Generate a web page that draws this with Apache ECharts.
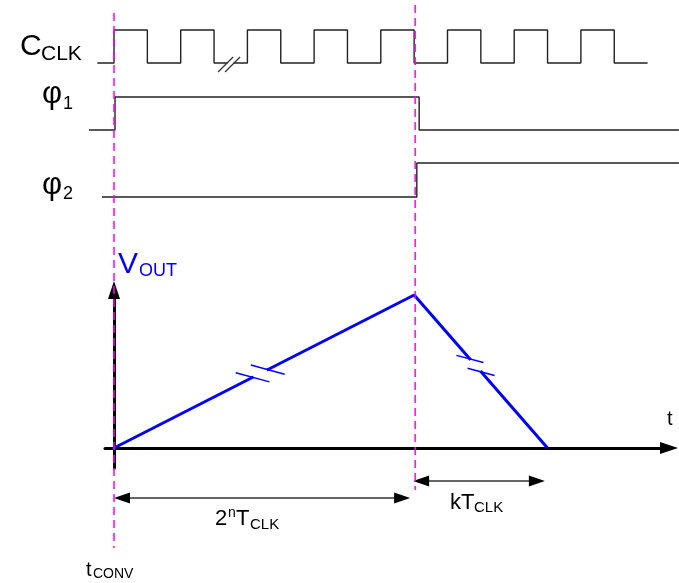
<!DOCTYPE html>
<html>
<head>
<meta charset="utf-8">
<script src="https://cdn.jsdelivr.net/npm/echarts@6/dist/echarts.min.js"></script>
<style>
  html, body { margin: 0; padding: 0; background: #fff; }
  #chart { width: 679px; height: 583px; }
</style>
</head>
<body>
<div id="chart"></div>
<script>
// time is counted in clock half-periods from the start of conversion
const clkTimes = [-0.5, 0, 1, 2, 3, 4, 5, 6, 7, 8, 9, 10, 11, 12, 13, 14, 15, 16];
const clkLevels = [0, 1, 0, 1, 0, 1, 0, 1, 0, 1, 0, 1, 0, 1, 0, 1, 0, 0];
const clkBreakAt = 3.45;

const phi1Times = [-0.75, 0.03, 9.15, 16.94];
const phi1Levels = [0, 1, 0, 0];
const phi2Times = [-0.36, 9.08, 16.94];
const phi2Levels = [0, 1, 1];

const voutTimes = [0, 9, 13];
const voutLevels = [0, 1, 0];
const voutBreaks = [[0, 0.487], [1, 0.46]]; // [segment, fraction along it]

const markerTimes = [0, 9.03];              // t_CONV, end of phase 1
const spans = [[0, 8.88], [8.97, 12.92]];   // 2^n T_CLK, k T_CLK

// layout
const W = 679, H = 583;
const X0 = 114, UNIT = 33.35;   // pixel of t=0, pixels per half period
const FONT = 'Liberation Sans, Arial, sans-serif';
const markerTop = [13, 5], markerBottom = [548, 490];
const spanRows = [498, 481];
const breakTick = [35, 28];

function xr(left, right) {
  return { min: (left - X0) / UNIT, max: (W - right - X0) / UNIT };
}
function zip(a, b) { return a.map((v, i) => [v, b[i]]); }
function label(x, base, text, size, color) {
  return {
    type: 'text', x: x, y: base - 0.35 * size,
    style: { text: text, fontSize: size, fontFamily: FONT, fill: color || '#000',
             align: 'left', verticalAlign: 'middle' }
  };
}

const chart = echarts.init(document.getElementById('chart'));
const full = xr(0, 0);
const vx = xr(105, 10);
const hidden = { show: false };

function digital(idx, data) {
  return {
    type: 'line', xAxisIndex: idx, yAxisIndex: idx, data: data, step: 'end',
    symbol: 'none', clip: false, silent: true,
    lineStyle: { color: '#222', width: 1.4 }
  };
}

const option = {
  animation: false,
  grid: [
    { left: 0, right: 0, top: 30, height: 33 },
    { left: 0, right: 0, top: 97, height: 33 },
    { left: 0, right: 0, top: 163, height: 34 },
    { left: 105, right: 10, top: 290, bottom: 115 },
    { left: 0, right: 0, top: 0, bottom: 0 }
  ],
  xAxis: [
    Object.assign({ type: 'value', gridIndex: 0, min: full.min, max: full.max }, hidden),
    Object.assign({ type: 'value', gridIndex: 1, min: full.min, max: full.max }, hidden),
    Object.assign({ type: 'value', gridIndex: 2, min: full.min, max: full.max }, hidden),
    {
      type: 'value', gridIndex: 3, min: vx.min, max: vx.max,
      axisLine: { show: true, onZero: true, symbol: ['none', 'triangle'], symbolSize: [12, 18],
                  lineStyle: { color: '#000', width: 3 } },
      axisTick: { show: false }, axisLabel: { show: false }, splitLine: { show: false }
    },
    Object.assign({ type: 'value', gridIndex: 4, min: full.min, max: full.max }, hidden)
  ],
  yAxis: [
    Object.assign({ type: 'value', gridIndex: 0, min: 0, max: 1 }, hidden),
    Object.assign({ type: 'value', gridIndex: 1, min: 0, max: 1 }, hidden),
    Object.assign({ type: 'value', gridIndex: 2, min: 0, max: 1 }, hidden),
    {
      type: 'value', gridIndex: 3, min: -20 / 153, max: 158 / 153,
      axisLine: { show: true, onZero: true, symbol: ['none', 'triangle'], symbolSize: [12, 18],
                  lineStyle: { color: '#000', width: 3 } },
      axisTick: { show: false }, axisLabel: { show: false }, splitLine: { show: false }
    },
    Object.assign({ type: 'value', gridIndex: 4, min: 0, max: H, inverse: true }, hidden)
  ],
  series: [
    digital(0, zip(clkTimes, clkLevels)),
    digital(1, zip(phi1Times, phi1Levels)),
    digital(2, zip(phi2Times, phi2Levels)),
    {
      type: 'line', xAxisIndex: 3, yAxisIndex: 3, data: zip(voutTimes, voutLevels),
      symbol: 'none', clip: false, silent: true, z: 3,
      lineStyle: { color: '#0000ff', width: 3 }
    },
    {
      // break marks on the ramps
      type: 'custom', xAxisIndex: 3, yAxisIndex: 3, data: voutBreaks, z: 5, silent: true, clip: false,
      renderItem: function (params, api) {
        const seg = api.value(0), f = api.value(1);
        const p0 = api.coord([voutTimes[seg], voutLevels[seg]]);
        const p1 = api.coord([voutTimes[seg + 1], voutLevels[seg + 1]]);
        const dx = p1[0] - p0[0], dy = p1[1] - p0[1];
        const len = Math.sqrt(dx * dx + dy * dy);
        const ux = dx / len, uy = dy / len;
        const cx = p0[0] + dx * f, cy = p0[1] + dy * f;
        const g = 8.5;
        const a = [cx - ux * g, cy - uy * g], b = [cx + ux * g, cy + uy * g];
        const tl = breakTick[params.dataIndex] / 2;
        const tx = Math.cos(Math.PI / 12) * tl, ty = Math.sin(Math.PI / 12) * tl;
        const tick = function (p) {
          return { type: 'line', shape: { x1: p[0] - tx, y1: p[1] - ty, x2: p[0] + tx, y2: p[1] + ty },
                   style: { stroke: '#0000ff', lineWidth: 1.5 } };
        };
        return { type: 'group', children: [
          { type: 'line', shape: { x1: a[0] + ux, y1: a[1] + uy, x2: b[0] - ux, y2: b[1] - uy },
            style: { stroke: '#fff', lineWidth: 6 } },
          tick(a), tick(b)
        ] };
      }
    },
    {
      // "//" break on the clock
      type: 'custom', xAxisIndex: 0, yAxisIndex: 0, data: [[clkBreakAt, 0]], z: 5, silent: true, clip: false,
      renderItem: function (params, api) {
        const c = api.coord([api.value(0), api.value(1)]);
        const s = function (ox) {
          return { type: 'line', shape: { x1: c[0] + ox - 7.5, y1: c[1] + 9, x2: c[0] + ox + 7.5, y2: c[1] - 6 },
                   style: { stroke: '#333', lineWidth: 1.3 } };
        };
        return { type: 'group', children: [
          { type: 'line', shape: { x1: c[0] - 1.5, y1: c[1], x2: c[0] + 4.5, y2: c[1] },
            style: { stroke: '#fff', lineWidth: 3 } },
          s(-3.5), s(3.5)
        ] };
      }
    },
    {
      // dashed time markers
      type: 'custom', xAxisIndex: 4, yAxisIndex: 4, z: 10, silent: true, clip: false,
      data: markerTimes.map((t, i) => [t, markerTop[i], markerBottom[i]]),
      renderItem: function (params, api) {
        const a = api.coord([api.value(0), api.value(1)]);
        const b = api.coord([api.value(0), api.value(2)]);
        return { type: 'line', shape: { x1: a[0], y1: a[1], x2: b[0], y2: b[1] },
                 style: { stroke: '#ff00ff', lineWidth: 1.5, lineDash: [8, 5] } };
      }
    },
    {
      // dimension arrows
      type: 'custom', xAxisIndex: 4, yAxisIndex: 4, z: 6, silent: true, clip: false,
      data: spans.map((s, i) => [s[0], s[1], spanRows[i]]),
      renderItem: function (params, api) {
        const a = api.coord([api.value(0), api.value(2)]);
        const b = api.coord([api.value(1), api.value(2)]);
        const L = 16, hw = 5.5;
        return { type: 'group', children: [
          { type: 'line', shape: { x1: a[0] + 4, y1: a[1], x2: b[0] - 4, y2: b[1] },
            style: { stroke: '#333', lineWidth: 1.5 } },
          { type: 'polygon', shape: { points: [[a[0], a[1]], [a[0] + L, a[1] - hw], [a[0] + L, a[1] + hw]] },
            style: { fill: '#000' } },
          { type: 'polygon', shape: { points: [[b[0], b[1]], [b[0] - L, b[1] - hw], [b[0] - L, b[1] + hw]] },
            style: { fill: '#000' } }
        ] };
      }
    }
  ],
  graphic: [
    label(20, 57, 'C', 30), label(41, 62, 'CLK', 21),
    label(42, 105, 'φ', 31), label(63, 110, '1', 18),
    label(42, 196, 'φ', 31), label(63, 200, '2', 18),
    label(118, 275, 'V', 30, '#0000ff'), label(139, 277, 'OUT', 18, '#0000ff'),
    label(667, 426, 't', 20),
    label(215, 527, '2', 22), label(228, 518, 'n', 14), label(236, 527, 'T', 22), label(250, 530, 'CLK', 15),
    label(450, 511, 'k', 22), label(461, 511, 'T', 22), label(474, 513, 'CLK', 15),
    label(86, 577, 't', 20), label(93, 579, 'CONV', 14)
  ]
};

chart.setOption(option);
window.addEventListener('resize', function () { chart.resize(); });
</script>
</body>
</html>
